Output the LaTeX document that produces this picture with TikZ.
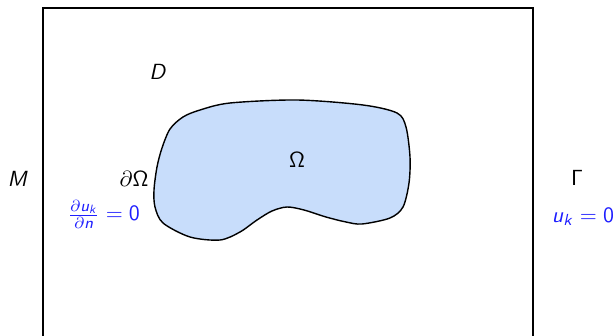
\documentclass[tikz,border=0pt]{standalone}
\usetikzlibrary{calc}
\DeclareMathAlphabet{\mathsfit}{OT1}{cmss}{m}{sl}
\DeclareMathAlphabet{\mathsfup}{OT1}{cmss}{m}{n}
\definecolor{regionfill}{RGB}{200,221,251}
\definecolor{bcblue}{RGB}{30,30,255}
\tikzset{
  lbl/.style={font=\fontsize{11.1}{13}\selectfont, inner sep=0pt},
  bc/.style={lbl, text=bcblue},
  boxline/.style={line width=1.3pt},
  regionline/.style={line width=0.7pt, fill=regionfill}
}
\begin{document}
\begin{tikzpicture}[x=0.5pt,y=-0.5pt]
  \useasboundingbox (0,0) rectangle (615,336);
  \clip (0,0) rectangle (615,336);
  % outer domain D
  \draw[boxline] (43,8) rectangle (533,380);
  % inner region Omega
  \draw[regionline] plot[smooth cycle, tension=0.5] coordinates {
    (154,190) (157,167) (162,148) (170,129) (183,117) (200,110)
    (230,103) (297,100) (363,105) (397,113) (406,127) (410,157)
    (409,183) (403,207) (390,218) (362,224) (346,222) (326,217)
    (304,210) (287,207) (272,211) (257,220) (240,232) (220,240)
    (190,237) (163,223) (155,207)};
  % labels
  \node[lbl] (D) at (158,72) {$\mathsfit{D}$};
  \node[lbl] (Om) at (297,160) {$\mathsfup{\Omega}$};
  \node[lbl] (dOm) at (134,179) {$\partial\mathsfup{\Omega}$};
  \node[lbl] (M) at (18,179) {$\mathsfit{M}$};
  \node[lbl] (G) at (577,178) {$\mathsfup{\Gamma}$};
  \node[bc] (neu) at (104,214)
    {$\frac{\partial \mathsfit{u}_{\mathsfit{k}}}{\partial \mathsfit{n}} = \mathsfup{0}$};
  \node[bc] (dir) at (583,217) {$\mathsfit{u}_{\mathsfit{k}} = \mathsfup{0}$};
\end{tikzpicture}
\end{document}
